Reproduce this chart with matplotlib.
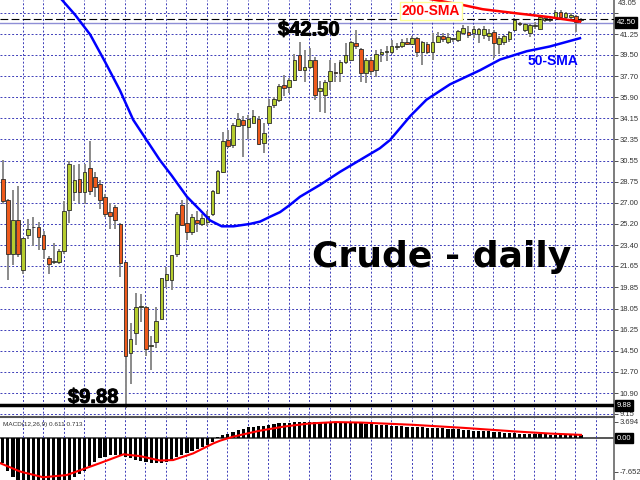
import numpy as np
import matplotlib.pyplot as plt
import matplotlib.patheffects as pe
from matplotlib.transforms import blended_transform_factory

plt.rcParams['font.family'] = ['Liberation Sans', 'DejaVu Sans']

# daily OHLC (oldest first)
opens = [29.0, 27.2, 22.7, 25.5, 21.3, 24.3, 24.9, 24.9, 24.3, 22.3,
         21.95, 22.0, 22.9, 26.4, 27.9, 29.0, 27.9, 29.9, 29.2, 28.6,
         27.5, 26.2, 26.6, 25.2, 22.0, 14.3, 16.0, 18.2, 18.2, 14.9,
         15.25, 17.2, 20.5, 20.5, 22.7, 26.8, 25.3, 24.5, 25.5, 25.2,
         25.4, 26.0, 27.85, 29.6, 32.3, 31.9, 33.5, 34.0, 33.4, 33.75,
         34.1, 32.0, 33.75, 35.25, 35.65, 36.95, 36.8, 37.4, 39.5, 38.25,
         38.5, 39.1, 36.4, 36.1, 37.3, 38.05, 37.95, 38.9, 39.1, 40.5,
         39.95, 37.95, 39.05, 38.2, 39.55, 39.75, 39.7, 40.15, 40.2, 40.6,
         40.4, 40.9, 39.75, 40.45, 39.75, 40.6, 41.1, 40.6, 40.8, 40.75,
         41.3, 41.4, 41.3, 41.25, 41.15, 41.1, 41.4, 40.4, 40.6, 40.8,
         41.6, 42.2, 41.6, 41.3, 41.9, 41.7, 42.4, 42.45, 42.6, 43.15,
         42.7, 42.7, 42.8, 42.45]
highs = [30.6, 27.3, 28.1, 28.4, 24.0, 25.6, 25.8, 25.4, 24.6, 22.5,
         23.6, 23.1, 27.1, 30.5, 30.2, 30.3, 30.3, 32.2, 29.6, 28.9,
         27.7, 27.0, 26.8, 25.3, 22.0, 16.8, 19.4, 19.3, 18.3, 15.7,
         18.2, 20.6, 21.6, 22.6, 26.2, 27.2, 27.6, 26.0, 26.3, 26.0,
         26.3, 28.1, 29.8, 33.0, 33.15, 33.7, 34.6, 34.3, 34.4, 34.85,
         34.3, 33.75, 35.8, 35.9, 37.0, 37.8, 37.5, 39.6, 40.6, 39.9,
         40.1, 39.3, 37.3, 37.4, 39.05, 38.8, 39.1, 40.5, 40.7, 41.6,
         40.1, 39.2, 39.3, 39.9, 40.0, 40.2, 40.75, 40.5, 40.8, 40.9,
         41.1, 41.0, 40.7, 40.6, 41.3, 41.4, 41.3, 41.3, 40.9, 41.6,
         42.0, 41.9, 41.9, 41.8, 41.9, 41.7, 41.6, 41.1, 41.2, 41.5,
         42.6, 42.3, 42.2, 42.1, 42.3, 42.8, 42.7, 42.6, 43.3, 43.3,
         43.1, 43.0, 42.9, 42.6]
lows = [26.9, 20.5, 21.7, 22.4, 21.0, 23.9, 23.3, 23.0, 22.2, 21.0,
        21.8, 21.8, 22.7, 25.3, 27.1, 27.0, 26.9, 27.65, 27.5, 26.5,
        25.8, 24.8, 24.8, 20.7, 9.6, 11.7, 15.0, 16.9, 14.0, 12.85,
        14.7, 17.2, 19.8, 19.6, 22.4, 25.0, 23.85, 24.3, 24.55, 25.0,
        25.0, 25.9, 27.8, 29.5, 31.6, 31.6, 33.4, 30.85, 32.4, 33.7,
        31.9, 31.2, 33.7, 35.0, 35.5, 36.0, 36.3, 37.3, 38.2, 37.2,
        38.3, 35.7, 34.7, 34.6, 36.5, 37.2, 37.2, 38.7, 39.05, 40.0,
        37.2, 37.1, 37.8, 37.65, 38.9, 39.0, 39.6, 39.9, 40.1, 40.3,
        40.3, 39.35, 38.65, 39.6, 39.1, 40.5, 40.6, 40.4, 40.6, 40.6,
        41.2, 40.9, 40.9, 40.5, 40.8, 40.7, 39.2, 39.6, 40.3, 40.6,
        41.5, 41.9, 41.4, 41.0, 41.7, 41.6, 42.3, 42.3, 42.5, 42.6,
        42.5, 42.5, 41.45, 42.3]
closes = [27.1, 22.7, 25.5, 22.7, 24.0, 24.8, 24.95, 24.1, 23.1, 21.8,
          22.0, 22.9, 26.3, 30.3, 28.9, 27.9, 29.6, 28.0, 28.3, 27.2,
          26.0, 25.9, 25.5, 21.9, 14.0, 15.5, 18.2, 18.25, 14.6, 15.0,
          17.0, 20.6, 21.0, 22.6, 26.0, 25.1, 24.55, 25.8, 25.25, 25.7,
          25.9, 28.0, 29.7, 32.2, 31.8, 33.6, 34.05, 33.6, 34.05, 34.3,
          31.95, 32.85, 35.2, 35.75, 36.9, 36.7, 37.4, 39.1, 38.2, 38.5,
          39.1, 36.1, 36.7, 37.2, 38.15, 37.95, 38.9, 39.5, 40.6, 40.2,
          38.0, 39.1, 38.15, 39.6, 39.75, 39.8, 40.2, 40.2, 40.6, 40.4,
          40.9, 39.7, 40.6, 39.7, 40.6, 41.1, 40.8, 41.0, 40.85, 41.55,
          41.8, 41.2, 41.65, 41.65, 41.65, 41.3, 40.5, 40.95, 41.1, 41.45,
          42.4, 42.1, 42.1, 42.0, 42.0, 42.7, 42.6, 42.47, 43.15, 42.7,
          43.0, 42.9, 42.3, 42.5]

# moving averages, read at a number of bar positions
sma50_bar = [10.2, 11.6, 14.1, 17.1, 20.0, 22.9, 25.5, 28.1, 30.7, 33.0,
             36.0, 38.5, 40.5, 42.8, 45.1, 48.3, 50.3, 52.2, 54.2, 56.1,
             58.1, 62.0, 65.9, 69.8, 73.7, 75.7, 79.6, 82.8, 87.4, 93.3,
             97.2, 102.4, 106.9, 112.8]
sma50_val = [44.8, 44.13, 42.9, 41.2, 38.9, 36.5, 34.0, 32.3, 30.6, 29.3,
             27.5, 26.4, 25.5, 25.0, 25.0, 25.2, 25.4, 25.8, 26.2, 26.8,
             27.5, 28.5, 29.6, 30.6, 31.6, 32.3, 34.3, 35.7, 37.0, 38.2,
             39.1, 39.8, 40.2, 40.9]
sma200_bar = [81.5, 85.5, 89.9, 93.8, 100.5, 106.9, 112.8]
sma200_val = [44.38, 44.05, 43.71, 43.35, 43.0, 42.68, 42.3]

# MACD(12,26,9): main histogram per bar and signal line
macd_hist = [-5.6, -7.4, -8.8, -9.8, -10.5, -11.0, -11.3, -11.4, -11.3, -11.1,
             -10.8, -10.4, -9.9, -9.5, -8.9, -8.2, -7.5, -6.4, -5.4, -4.6,
             -4.2, -3.9, -3.85, -3.9, -4.2, -4.6, -5.0, -5.3, -5.5, -5.7,
             -5.7, -5.6, -5.4, -5.0, -4.4, -3.8, -3.3, -3.0, -2.6, -2.1,
             -1.6, -0.8, 0.2, 0.6, 1.0, 1.4, 1.8, 2.1, 2.4, 2.6,
             2.7, 2.8, 3.0, 3.2, 3.3, 3.4, 3.5, 3.6, 3.7, 3.7,
             3.7, 3.6, 3.5, 3.5, 3.5, 3.4, 3.4, 3.4, 3.4, 3.4,
             3.3, 3.2, 3.1, 3.0, 2.9, 2.9, 2.8, 2.7, 2.7, 2.6,
             2.6, 2.5, 2.4, 2.3, 2.3, 2.2, 2.2, 2.1, 2.0, 2.0,
             1.9, 1.8, 1.7, 1.7, 1.6, 1.5, 1.4, 1.3, 1.2, 1.2,
             1.1, 1.0, 1.0, 0.9, 0.9, 0.8, 0.8, 0.7, 0.7, 0.7,
             0.6, 0.6, 0.6, 0.611]
signal_bar = [-0.5, 3.4, 7.9, 12.5, 19.0, 23.6, 26.8, 30.7, 33.3, 37.2,
              41.2, 42.5, 45.0, 50.0, 55.0, 60.0, 65.0, 70.0, 80.0, 90.0,
              100.0, 107.0, 113.0]
signal_val = [-5.7, -7.6, -8.9, -8.4, -5.7, -3.7, -4.1, -5.1, -5.0, -3.5,
              -1.2, -0.6, 0.3, 1.6, 2.6, 3.3, 3.6, 3.5, 3.0, 2.3,
              1.5, 1.0, 0.713]

price_ticks = [43.05, 41.25, 39.50, 37.70, 35.90, 34.15, 32.35, 30.55, 28.75, 27.00,
               25.20, 23.40, 21.65, 19.85, 18.05, 16.25, 14.50, 12.70, 10.90, 9.15]
macd_ticks = [3.694, -7.652]
low_line = 9.88
high_line = 42.50
bid_line = 42.22

grid_col = '#3c3cb8'
bull_col = '#b5cc2e'
bear_col = '#ee5a1c'
heavy = [pe.withStroke(linewidth=0.7, foreground='black')]

fig = plt.figure(figsize=(6.4, 4.8), dpi=100)
ax = fig.add_axes([0, 63 / 480, 614 / 640, 417 / 480])
axm = fig.add_axes([0, 0, 614 / 640, 63 / 480], sharex=ax)

# candles
x = np.arange(len(opens))
o, h, l, c = map(np.array, (opens, highs, lows, closes))
up = c >= o
ax.vlines(x, l, h, color='#8a8a8a', lw=1.4, zorder=2)
ax.bar(x, np.maximum(np.abs(c - o), 0.08), bottom=np.minimum(o, c), width=0.72,
       color=np.where(up, bull_col, bear_col), edgecolor='#2a2a2a', linewidth=0.6, zorder=3)

ax.plot(sma50_bar, sma50_val, color='#0000ff', lw=1.8, zorder=5)
ax.plot(sma200_bar, sma200_val, color='#ff0000', lw=1.8, zorder=5)

ax.axhline(low_line, color='black', lw=2.5, zorder=4)
ax.axhline(bid_line, color='#8e8ed6', lw=1.0, zorder=1)
ax.axhline(high_line, color='black', lw=0.8, dashes=(7, 3), zorder=4)

ax.set_xlim(-0.53, 119.45)
ax.set_ylim(8.88, 44.13)
vgrid = np.arange(3.9, 119, 4)
ax.set_xticks(vgrid)
ax.set_yticks(price_ticks)
ax.set_yticklabels([''] + [f'{t:.2f}' for t in price_ticks[1:]])
ax.yaxis.tick_right()
ax.tick_params(axis='y', labelsize=5.5, colors='#333333', length=3, width=0.6, pad=1)
ax.tick_params(axis='x', bottom=False, labelbottom=False)
ax.grid(True, color=grid_col, lw=0.7, linestyle=(0, (2, 2)))
for s in ('top', 'left', 'bottom'):
    ax.spines[s].set_visible(False)
ax.spines['right'].set_color('#666666')
ax.spines['right'].set_linewidth(1.2)

ytr = blended_transform_factory(ax.transAxes, ax.transData)
ax.text(1.006, 0.999, '43.05', transform=ax.transAxes, fontsize=5.5, color='#333333', va='top')
for val, txt in ((bid_line, '42.50'), (low_line, '9.88')):
    ax.text(1.004, val, txt, transform=ytr, fontsize=5.5, color='white', va='center',
            bbox=dict(boxstyle='square,pad=0.25', fc='black', ec='black'), zorder=6, clip_on=False)

# annotations
ax.text(0.4528, 0.915, '$42.50', transform=ax.transAxes, fontsize=14.5, fontweight='bold',
        path_effects=heavy)
ax.text(0.1107, 0.034, '$9.88', transform=ax.transAxes, fontsize=14.5, fontweight='bold',
        path_effects=heavy)
ax.text(0.508, 0.36, 'Crude - daily', transform=ax.transAxes, fontsize=26, fontweight='bold',
        family='DejaVu Sans')
ax.text(0.6547, 0.964, '200-SMA', transform=ax.transAxes, fontsize=10, fontweight='bold',
        color='#ff0000', zorder=7,
        bbox=dict(boxstyle='square,pad=0.15', fc='white', ec='#ffff99', lw=1.0))
ax.text(0.86, 0.844, '50-SMA', transform=ax.transAxes, fontsize=10, fontweight='bold',
        color='#0000ff', zorder=7)

# MACD panel
axm.bar(x, macd_hist, width=0.62, color='black', zorder=2)
axm.axhline(0, color='#555555', lw=1.4, zorder=1)
axm.plot(signal_bar, signal_val, color='#ff0000', lw=1.5, zorder=3)
axm.set_ylim(-9.52, 4.76)
axm.set_yticks(macd_ticks)
axm.set_yticklabels(['3.694', '-7.652'])
axm.yaxis.tick_right()
axm.tick_params(axis='y', labelsize=5.5, colors='#333333', length=3, width=0.6, pad=1)
axm.tick_params(axis='x', bottom=False, labelbottom=False)
axm.grid(True, axis='x', color=grid_col, lw=0.7, linestyle=(0, (2, 2)))
for s in ('left', 'bottom'):
    axm.spines[s].set_visible(False)
axm.spines['top'].set_color('#555555')
axm.spines['top'].set_linewidth(1.5)
axm.spines['right'].set_color('#666666')
axm.spines['right'].set_linewidth(1.2)
mtr = blended_transform_factory(axm.transAxes, axm.transData)
axm.text(1.004, 0, '0.00', transform=mtr, fontsize=5.5, color='white', va='center',
         bbox=dict(boxstyle='square,pad=0.25', fc='black', ec='black'), zorder=6, clip_on=False)
axm.text(0.005, 0.885, 'MACD(12,26,9) 0.611 0.713', transform=axm.transAxes,
         fontsize=4.6, color='#333333', va='center')

fig.savefig('out.png', dpi=100)
